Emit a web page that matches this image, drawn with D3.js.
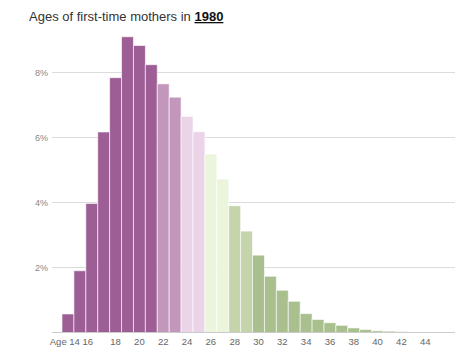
<!DOCTYPE html>
<html>
<head>
<meta charset="utf-8">
<script src="https://cdn.jsdelivr.net/npm/d3@7"></script>
<style>
  body { margin: 0; background: #fff; }
  svg { display: block; font-family: "Liberation Sans", Arial, sans-serif; }
  .title { font-size: 13px; fill: #333; }
  .title .year { font-weight: bold; text-decoration: underline; fill: #111; }
  .ylab { font-size: 9px; fill: #888; }
  .xlab { font-size: 9.5px; fill: #666; }
</style>
</head>
<body>
<svg width="460" height="360"></svg>
<script>
// Share of first-time mothers by age, 1980 (percent)
const ages = d3.range(14, 47)
const shares = [0.57, 1.9, 3.97, 6.17, 7.84, 9.1, 8.83, 8.24, 7.65, 7.24,
  6.65, 6.18, 5.49, 4.72, 3.9, 3.12, 2.38, 1.73, 1.3, 0.96,
  0.58, 0.4, 0.3, 0.22, 0.14, 0.09, 0.05, 0.04, 0.03, 0.01,
  0.01, 0, 0]
const yTicks = [2, 4, 6, 8]
const xTicks = [14, 16, 18, 20, 22, 24, 26, 28, 30, 32, 34, 36, 38, 40, 42, 44]

// colour bands by age group
const groupStarts = [14, 22, 24, 26, 28, 30]
const groupColors = ['#9d5e95', '#c397bb', '#ebd4e8', '#eaf5dc', '#c5d4ab', '#a9bf8d']

const data = ages.map((a, i) => ({ age: a, value: shares[i] }))

const svg = d3.select('svg')

let x = d3.scaleBand()
  .domain(ages)
  .range([62, 455])

let y = d3.scaleLinear()
  .domain([0, 10])
  .range([332.5, 7.5])

let color = d3.scaleThreshold()
  .domain(groupStarts.slice(1))
  .range(groupColors)

// Gridlines
svg.append('g')
  .selectAll('line')
  .data(yTicks)
  .enter()
  .append('line')
  .attr('x1', 52)
  .attr('x2', 455)
  .attr('y1', d => y(d))
  .attr('y2', d => y(d))
  .style('stroke', '#dcdcdc')
  .style('stroke-width', 1)

svg.append('g')
  .selectAll('text')
  .data(yTicks)
  .enter()
  .append('text')
  .attr('class', 'ylab')
  .attr('x', 48)
  .attr('y', d => y(d))
  .attr('dy', '0.35em')
  .attr('text-anchor', 'end')
  .text(d => d + '%')

// Bars
svg.append('g')
  .selectAll('rect')
  .data(data)
  .enter()
  .append('rect')
  .attr('x', d => x(d.age))
  .attr('y', d => y(d.value))
  .attr('width', x.bandwidth())
  .attr('height', d => y(0) - y(d.value))
  .style('fill', d => color(d.age))
  .style('stroke', '#fff')
  .style('stroke-opacity', 0.6)
  .style('stroke-width', 1)

// Baseline
svg.append('line')
  .attr('x1', 52)
  .attr('x2', 455)
  .attr('y1', y(0))
  .attr('y2', y(0))
  .style('stroke', '#ccc')
  .style('stroke-width', 1.2)

// X labels
svg.append('g')
  .selectAll('text')
  .data(xTicks)
  .enter()
  .append('text')
  .attr('class', 'xlab')
  .attr('x', d => {
    if (d === 14) return x(d) + x.bandwidth() + 6
    if (d === 16) return x(d) + 2
    return x(d) + x.bandwidth() / 2
  })
  .attr('y', 345)
  .attr('text-anchor', d => d === 14 ? 'end' : 'middle')
  .text(d => d === 14 ? 'Age 14' : d)

// Title
let title = svg.append('text')
  .attr('class', 'title')
  .attr('x', 29)
  .attr('y', 21)
title.append('tspan').text('Ages of first-time mothers in ')
title.append('tspan').attr('class', 'year').text('1980')
</script>
</body>
</html>
